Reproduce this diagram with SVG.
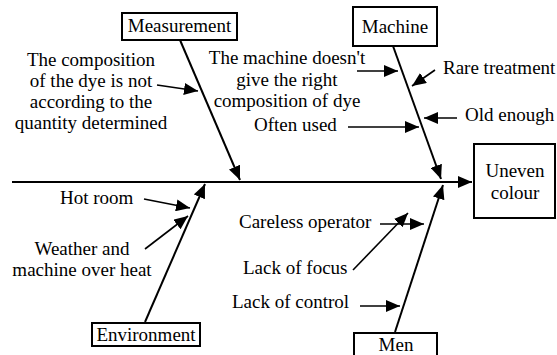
<svg xmlns="http://www.w3.org/2000/svg" width="557" height="355" viewBox="0 0 557 355" font-family="'Liberation Serif', 'DejaVu Serif', 'Times New Roman', serif">
<style>
text{font-family:'Liberation Serif','DejaVu Serif','Times New Roman',serif;font-size:19px;fill:#000}
.c{text-anchor:middle}
.box{fill:#fff;stroke:#000;stroke-width:2}
.ln{stroke:#000;stroke-width:2;fill:none;marker-end:url(#ah)}
.sm{stroke:#000;stroke-width:1.6;fill:none;marker-end:url(#ah)}
</style>
<defs>
<marker id="ah" markerUnits="userSpaceOnUse" markerWidth="15" markerHeight="12" refX="14" refY="6" orient="auto">
<path d="M0,0 L14,6 L0,12 z" fill="#000"/>
</marker>
</defs>
<g id="connectors">
<line class="ln" x1="12" y1="182" x2="472" y2="182"/>
<line class="ln" x1="180" y1="40" x2="240" y2="180"/>
<line class="ln" x1="393" y1="46" x2="441" y2="179"/>
<line class="ln" x1="145" y1="322" x2="205" y2="184"/>
<line class="ln" x1="395" y1="332" x2="443" y2="185"/>
<line class="sm" x1="157" y1="85" x2="198" y2="91"/>
<line class="sm" x1="357" y1="71" x2="398" y2="71"/>
<line class="sm" x1="435" y1="70" x2="412" y2="86"/>
<line class="sm" x1="457" y1="118" x2="424" y2="118"/>
<line class="sm" x1="348" y1="127" x2="419" y2="127"/>
<line class="sm" x1="144" y1="199" x2="190" y2="208"/>
<line class="sm" x1="145" y1="249" x2="188" y2="216"/>
<line class="sm" x1="380" y1="224" x2="424" y2="224"/>
<line class="sm" x1="353" y1="270" x2="408" y2="213"/>
<line class="sm" x1="360" y1="306" x2="400" y2="306"/>
</g>
<g id="measurement">
<rect class="box" x="122" y="13" width="115" height="27"/>
<text class="c" x="179.5" y="32">Measurement</text>
</g>
<g id="machine">
<rect class="box" x="353" y="7" width="84" height="39"/>
<text class="c" x="395" y="33">Machine</text>
</g>
<g id="environment">
<rect class="box" x="92" y="323" width="108" height="23"/>
<text class="c" x="146" y="341">Environment</text>
</g>
<g id="men">
<rect class="box" x="354" y="333" width="83" height="30"/>
<text class="c" x="396" y="351">Men</text>
</g>
<g id="uneven-colour">
<rect class="box" x="474" y="144" width="81" height="74"/>
<text class="c" x="515" y="177">Uneven</text>
<text class="c" x="515" y="199">colour</text>
</g>
<g id="labels">
<text class="c" x="91" y="66">The composition</text>
<text class="c" x="91" y="87">of the dye is not</text>
<text class="c" x="91" y="108">according to the</text>
<text class="c" x="91" y="129">quantity determined</text>
<text class="c" x="287" y="64">The machine doesn't</text>
<text class="c" x="287" y="86">give the right</text>
<text class="c" x="287" y="107">composition of dye</text>
<text x="254" y="131">Often used</text>
<text x="443" y="74">Rare treatment</text>
<text x="465" y="121">Old enough</text>
<text x="60" y="204">Hot room</text>
<text class="c" x="82" y="255">Weather and</text>
<text class="c" x="82" y="276">machine over heat</text>
<text x="239" y="228">Careless operator</text>
<text x="243" y="274">Lack of focus</text>
<text x="232" y="308">Lack of control</text>
</g>
</svg>
